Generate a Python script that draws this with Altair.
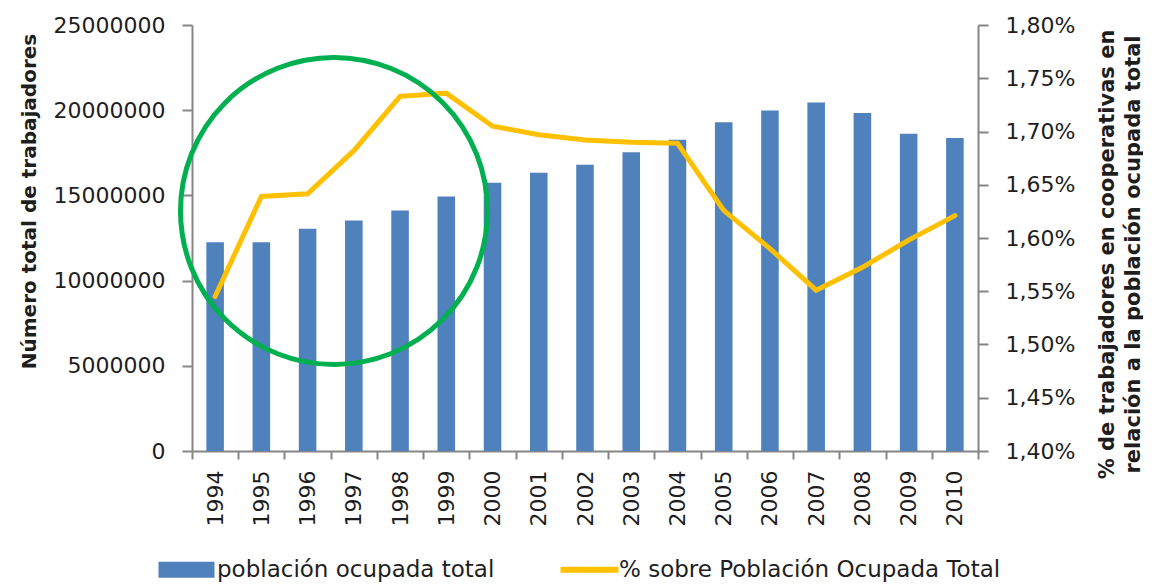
import altair as alt
import pandas as pd

years = [str(y) for y in range(1994, 2011)]
poblacion = [12250000, 12250000, 13040000, 13530000, 14120000, 14940000, 15740000,
             16330000, 16800000, 17530000, 18260000, 19290000, 19980000, 20450000,
             19840000, 18620000, 18370000]
porcentaje = [1.545, 1.639, 1.6415, 1.682, 1.733, 1.736, 1.705, 1.697, 1.692, 1.690,
              1.689, 1.626, 1.590, 1.551, 1.5725, 1.598, 1.621]
serie_barras = "población ocupada total"
serie_linea = "% sobre Población Ocupada Total"
left_ticks = [0, 5000000, 10000000, 15000000, 20000000, 25000000]
right_ticks = [1.40, 1.45, 1.50, 1.55, 1.60, 1.65, 1.70, 1.75, 1.80]
left_title = "Número total de trabajadores"
right_title = ["% de trabajadores en cooperativas en", "relación a la población ocupada total"]

FONT = "DejaVu Sans"
AXIS_COLOR = "#868686"
TEXT_COLOR = "#1e1e1e"
BLUE = "#4F81BD"
GOLD = "#FFC000"
GREEN = "#00B050"
BAR_PATH = "M-1,-0.8H4.6V0.8H-1Z"
LINE_PATH = "M-1,-0.3H4.8V0.3H-1Z"

df_b = pd.DataFrame({"anio": years, "valor": poblacion, "serie": serie_barras})
df_l = pd.DataFrame({"anio": years, "valor": porcentaje, "serie": serie_linea})

color_scale = alt.Scale(domain=[serie_barras, serie_linea], range=[BLUE, GOLD])
legend = alt.Legend(
    title=None, orient="none", legendX=-35, legendY=533, direction="horizontal",
    padding=0, symbolSize=400,
    symbolType={"expr": f"datum.value === '{serie_linea}' ? '{LINE_PATH}' : '{BAR_PATH}'"},
    symbolFillColor={"expr": f"datum.value === '{serie_linea}' ? '{GOLD}' : '{BLUE}'"},
    symbolStrokeWidth=0, symbolOpacity=1,
    labelFontSize=23, labelFont=FONT, labelLimit=0,
    labelColor=TEXT_COLOR, labelOffset=37, columnPadding=64,
)

x_enc = alt.X(
    "anio:N", title=None, sort=years,
    scale=alt.Scale(paddingInner=0, paddingOuter=0),
    axis=alt.Axis(labelAngle=270, labelPadding=11, tickSize=8, tickBand="extent",
                  domainColor=AXIS_COLOR, tickColor=AXIS_COLOR, domainWidth=2, tickWidth=2,
                  labelFont=FONT, labelFontSize=22, labelColor=TEXT_COLOR),
)

bars = alt.Chart(df_b).mark_bar(color=BLUE, width=alt.RelativeBandSize(0.38)).encode(
    x=x_enc,
    y=alt.Y("valor:Q", title=left_title,
            scale=alt.Scale(domain=[0, 25000000], nice=False, zero=True),
            axis=alt.Axis(orient="left", values=left_ticks, format="d", tickSize=10,
                          labelPadding=17, titlePadding=14,
                          domainColor=AXIS_COLOR, tickColor=AXIS_COLOR, domainWidth=2, tickWidth=2,
                          labelFont=FONT, labelFontSize=22, labelColor=TEXT_COLOR,
                          titleFont=FONT, titleFontSize=20, titleFontWeight="bold",
                          titleColor=TEXT_COLOR, titleY=176)),
    color=alt.Color("serie:N", scale=color_scale, legend=legend),
)

line = alt.Chart(df_l).mark_line(strokeWidth=5, strokeCap="round").encode(
    x=x_enc,
    y=alt.Y("valor:Q", title=right_title,
            scale=alt.Scale(domain=[1.40, 1.80], nice=False, zero=False),
            axis=alt.Axis(orient="right", values=right_ticks,
                          labelExpr="replace(format(datum.value, '.2f'), '.', ',') + '%'",
                          tickSize=10, labelPadding=17,
                          domainColor=AXIS_COLOR, tickColor=AXIS_COLOR, domainWidth=2, tickWidth=2,
                          labelFont=FONT, labelFontSize=22, labelColor=TEXT_COLOR,
                          titleFont=FONT, titleFontSize=21, titleFontWeight="bold",
                          titleColor=TEXT_COLOR, titleAngle=270, titleBaseline="top",
                          titleLineHeight=26, titleX=118, titleY=229)),
    color=alt.Color("serie:N", scale=color_scale, legend=legend),
)

circle = alt.Chart(pd.DataFrame({"k": [0]})).mark_point(
    shape="circle", filled=False, size=94249, strokeWidth=5, color=GREEN, opacity=1
).encode(x=alt.value(142), y=alt.value(186))

chart = alt.layer(bars, line, circle).resolve_scale(y="independent").properties(
    width=786, height=426, padding={"left": 11, "top": 6, "right": 0, "bottom": 0}
).configure_view(stroke=None).configure_axis(grid=False)

chart.save("out.html", embed_options={"renderer": "svg", "actions": False})
